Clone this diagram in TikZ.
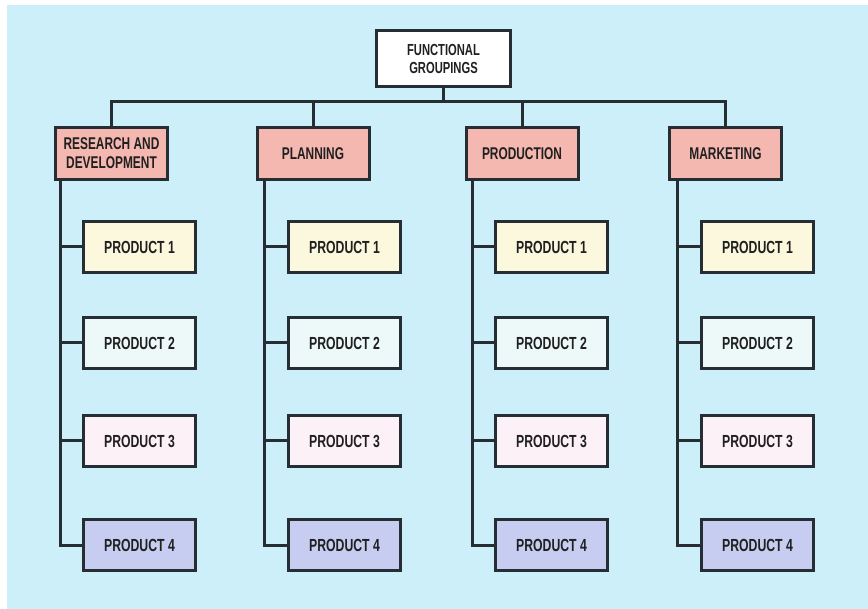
\documentclass[tikz,border=0pt]{standalone}
\usepackage{fontspec}
\newfontfamily\chartfont{Liberation Sans}[FakeStretch=0.7]
\usetikzlibrary{calc}

\definecolor{sheet}{RGB}{205,239,249}
\definecolor{ink}{RGB}{38,46,52}
\definecolor{textink}{RGB}{32,32,32}
\definecolor{groupfill}{RGB}{244,184,176}
\definecolor{prodA}{RGB}{252,248,222}
\definecolor{prodB}{RGB}{237,249,248}
\definecolor{prodC}{RGB}{252,241,246}
\definecolor{prodD}{RGB}{198,205,240}

\tikzset{
  box/.style={draw=ink, line width=3pt, inner sep=0pt, align=center,
    text=textink, font=\chartfont\bfseries\fontsize{17}{19}\selectfont},
  rootbox/.style={box, fill=white, minimum width=134pt, minimum height=56pt,
    font=\chartfont\bfseries\fontsize{16}{18}\selectfont},
  groupbox/.style={box, fill=groupfill, minimum width=112pt, minimum height=52pt},
  prodbox/.style={box, minimum width=112pt, minimum height=51pt,
    font=\chartfont\bfseries\fontsize{17.5}{19}\selectfont},
  link/.style={draw=ink, line width=3pt}
}

\begin{document}
\begin{tikzpicture}[x=1pt, y=-1pt]
  % page and tinted sheet
  \useasboundingbox (0,0) rectangle (868,609);
  \fill[white] (0,0) rectangle (868,609);
  \fill[sheet] (7,5) rectangle (868,609);

  % root and the four functional groups
  \node[rootbox] (top) at (443.5,58.5) {FUNCTIONAL\\GROUPINGS};
  \node[groupbox] (rd) at (111.5,153.5) {RESEARCH AND\\DEVELOPMENT};
  \node[groupbox] (pl) at (313,153.5) {PLANNING};
  \node[groupbox] (pr) at (522,153.5) {PRODUCTION};
  \node[groupbox] (mk) at (725.5,153.5) {MARKETING};

  % distribution bar under the root
  \coordinate (bar) at (0,102);
  \draw[link] (top.south) -- (top.south |- bar);
  \draw[link] (rd.north) |- (mk.north |- bar) -- (mk.north);
  \draw[link] (pl.north) -- (pl.north |- bar);
  \draw[link] (pr.north) -- (pr.north |- bar);

  % product boxes hanging from a spine under each group
  \foreach \col/\sx/\off in {rd/60/6, pl/265/9, pr/472/8, mk/678/9} {
    \foreach \row/\py/\fc in {1/247/prodA, 2/343/prodB, 3/441/prodC, 4/545/prodD} {
      \node[prodbox, fill=\fc] (\col\row) at (\sx+79.5,\py) {PRODUCT \row};
    }
    \path (\col.south west) ++(\off,0) coordinate (\col s);
    \draw[link] (\col s) |- (\col4.west);
    \foreach \row in {1,2,3} {
      \draw[link] (\col s |- \col\row.west) -- (\col\row.west);
    }
  }
\end{tikzpicture}
\end{document}
